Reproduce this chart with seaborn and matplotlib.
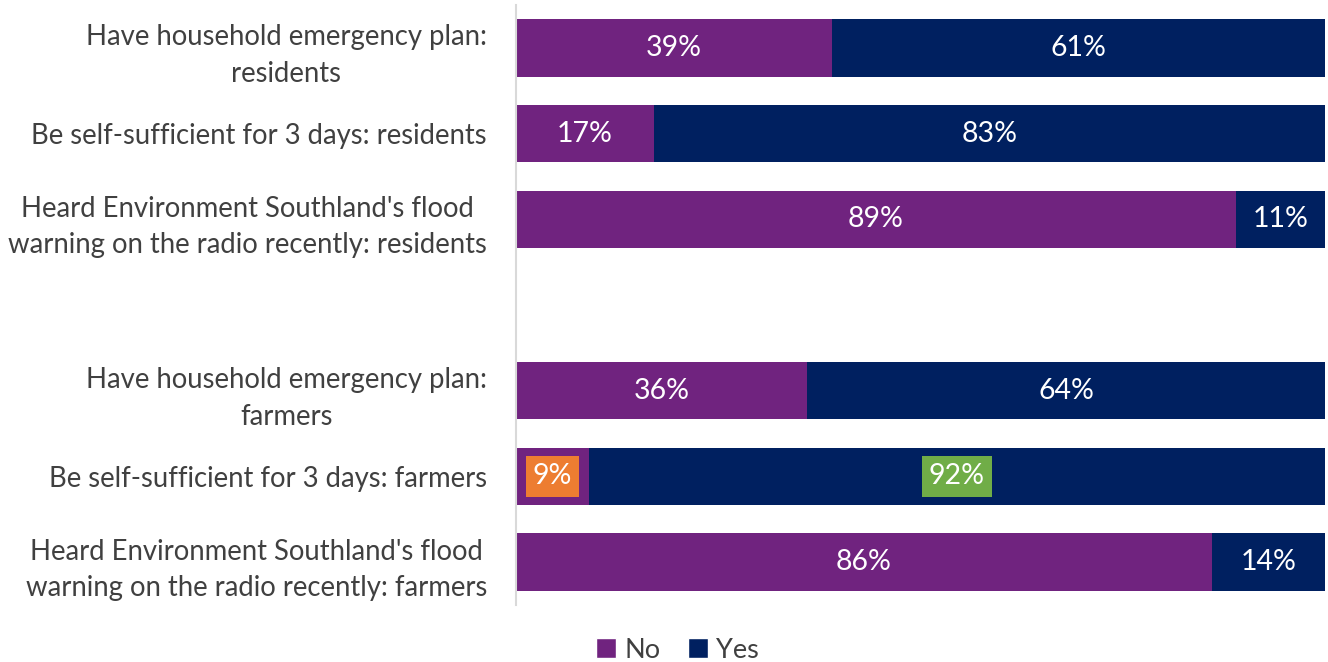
import matplotlib
matplotlib.use("Agg")
import matplotlib.pyplot as plt
import seaborn as sns
import pandas as pd
from matplotlib.patches import Patch

categories = [
    "Have household emergency plan:\nresidents",
    "Be self-sufficient for 3 days: residents",
    "Heard Environment Southland's flood\nwarning on the radio recently: residents",
    " ",
    "Have household emergency plan:\nfarmers",
    "Be self-sufficient for 3 days: farmers",
    "Heard Environment Southland's flood\nwarning on the radio recently: farmers",
]
no_values = [39, 17, 89, 0, 36, 9, 86]
yes_values = [61, 83, 11, 0, 64, 92, 14]
series_names = ["No", "Yes"]

PURPLE = "#70237F"
NAVY = "#002060"
label_boxes = {(5, "No"): "#ED7D31", (5, "Yes"): "#70AD47"}

sns.set_theme(style="white")
plt.rcParams["font.family"] = ["Lato", "DejaVu Sans"]

df = pd.DataFrame({"category": categories, "No": no_values, "Yes": yes_values})
df["total"] = df["No"] + df["Yes"]

fig = plt.figure(figsize=(13.28, 6.62), dpi=100)
ax = fig.add_axes([0.3886, 0.0861, 0.6091, 0.9063])

# Stacked bars: full (No + Yes) length in navy, then the No share on top in purple
sns.barplot(data=df, x="total", y="category", order=categories, orient="h",
            color=NAVY, saturation=1, width=0.67, linewidth=0, ax=ax)
sns.barplot(data=df, x="No", y="category", order=categories, orient="h",
            color=PURPLE, saturation=1, width=0.67, linewidth=0, ax=ax)

ax.set_xlim(0, 100)
ax.set_ylim(6.5, -0.5)

# Value labels centred in each segment
for i, (n, y) in enumerate(zip(no_values, yes_values)):
    if n + y == 0:
        continue
    for name, start, val in (("No", 0, n), ("Yes", n, y)):
        cx = start + min(val, 100 - start) / 2
        box = label_boxes.get((i, name))
        kw = {}
        if box:
            kw["bbox"] = dict(boxstyle="square,pad=0.25", fc=box, ec="none")
        ax.text(cx, i, f"{val}%", ha="center", va="center", color="white",
                fontsize=20.5, **kw)

ax.set_xlabel("")
ax.set_ylabel("")
ax.set_xticks([])
ax.tick_params(axis="y", length=0, pad=21, labelsize=19.8, labelcolor="#404040")
for lbl in ax.get_yticklabels():
    lbl.set_multialignment("center")
    lbl.set_linespacing(1.5)

for side in ("top", "right", "bottom"):
    ax.spines[side].set_visible(False)
ax.spines["left"].set_color("#D9D9D9")
ax.spines["left"].set_linewidth(1.5)

handles = [Patch(facecolor=PURPLE, label=series_names[0]),
           Patch(facecolor=NAVY, label=series_names[1])]
fig.legend(handles=handles, loc="center", bbox_to_anchor=(0.51, 0.018),
           ncol=2, frameon=False, fontsize=19.5, handlelength=0.75, handleheight=0.75,
           handletextpad=0.3, columnspacing=1.0, labelcolor="#404040")

fig.savefig("out.png", dpi=100)
